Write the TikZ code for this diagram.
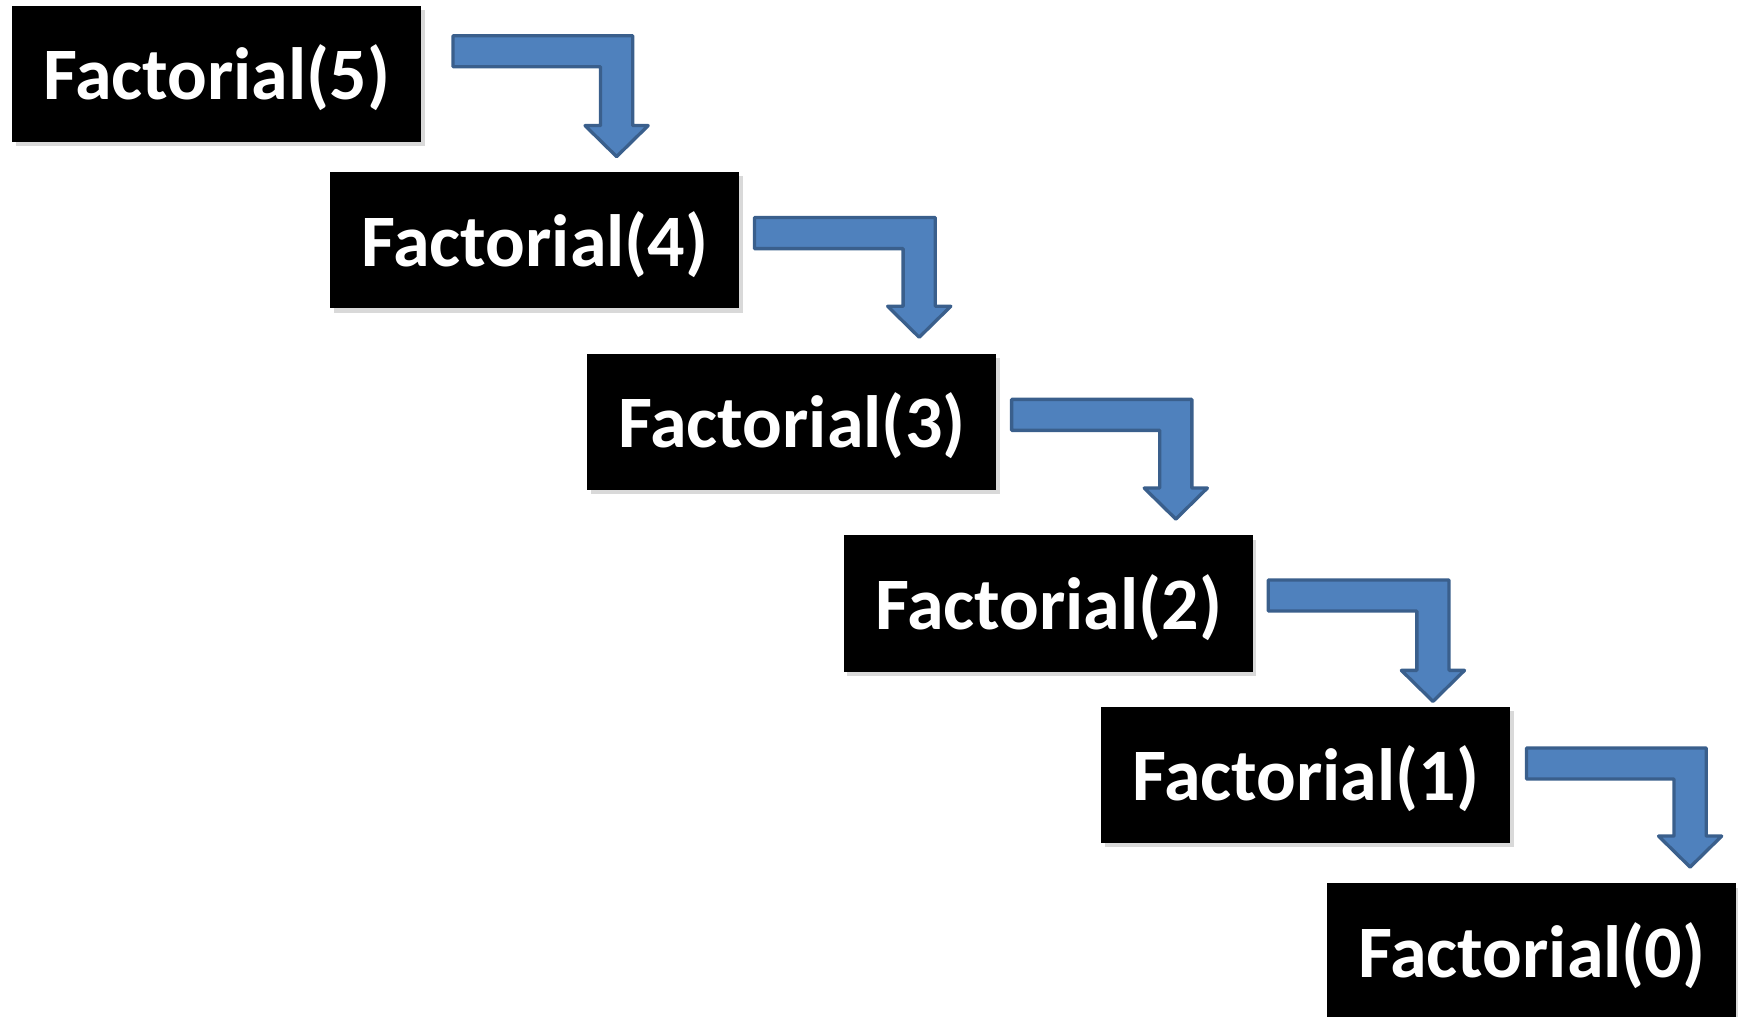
\documentclass[tikz,border=0pt]{standalone}
\usepackage{fontspec}
\setmainfont{Carlito}
\usetikzlibrary{calc,shadows}
\definecolor{callfill}{HTML}{4F81BD}
\definecolor{calledge}{HTML}{3A5F8C}
% bent block arrow: #1 top left corner of the tail, #2 tip
\newcommand{\callarrow}[2]{%
	\path[callarrow] let \p1=#1, \p2=#2 in
	(\x1,\y1)--(\x2+1.45mm,\y1)--(\x2+1.45mm,\y2+2.8mm)--(\x2+2.85mm,\y2+2.8mm)--(\x2,\y2)
	--(\x2-2.85mm,\y2+2.8mm)--(\x2-1.45mm,\y2+2.8mm)--(\x2-1.45mm,\y1-2.8mm)--(\x1,\y1-2.8mm)--cycle;}
\begin{document}
\begin{tikzpicture}[x=0.1mm,y=-0.1mm, line join=round,
	fact/.style={fill=black, text=white, minimum width=36.9mm, minimum height=12.3mm, inner sep=0pt,
		text height=5.9mm, text depth=1.2mm,
		font=\fontsize{19}{22}\selectfont\bfseries,
		drop shadow={shadow xshift=0.3mm, shadow yshift=-0.4mm, opacity=0.3}},
	callarrow/.style={fill=callfill, draw=calledge, line width=0.3mm}]
	\clip (0,0) rectangle (1568,917);
	\node[fact] (f5) at (195.5,66.5) {Factorial(5)};
	\node[fact] (f4) at (482.5,216.5) {Factorial(4)};
	\node[fact] (f3) at (714.5,380.5) {Factorial(3)};
	\node[fact] (f2) at (946,544.5) {Factorial(2)};
	\node[fact] (f1) at (1178,699) {Factorial(1)};
	\node[fact] (f0) at (1382,858.5) {Factorial(0)};
	% calls
	\callarrow{($(f5.north east)+(28,28)$)}{($(f4.north west)+(259,-13)$)}
	\callarrow{($(f4.north east)+(13,42)$)}{($(f3.north west)+(300,-14)$)}
	\callarrow{($(f3.north east)+(13,42)$)}{($(f2.north west)+(300,-14)$)}
	\callarrow{($(f2.north east)+(13,41)$)}{($(f1.north west)+(300,-4)$)}
	\callarrow{($(f1.north east)+(14,38)$)}{($(f0.north west)+(328,-14)$)}
\end{tikzpicture}
\end{document}
